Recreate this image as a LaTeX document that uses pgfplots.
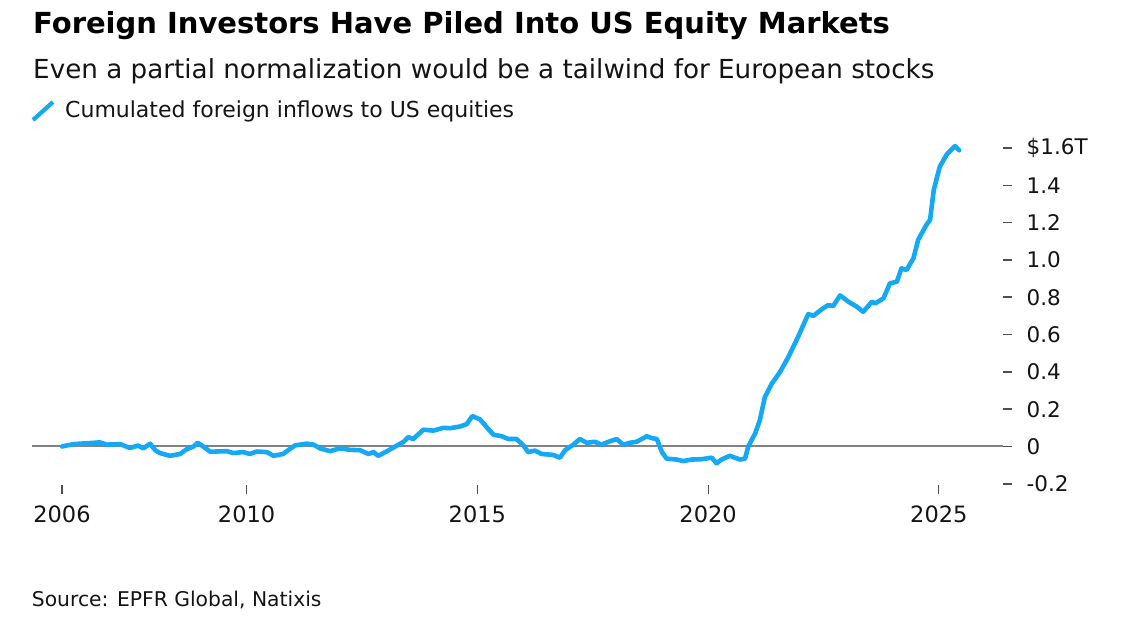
\documentclass[border=0pt]{standalone}
\usepackage{fontspec}
\setmainfont{DejaVu Sans}
\usepackage{pgfplots}
\pgfplotsset{compat=1.18}

\definecolor{flow}{RGB}{20,168,245}
\definecolor{zeroline}{RGB}{130,130,130}
\definecolor{tickc}{RGB}{80,80,80}
\definecolor{ink}{RGB}{20,20,20}

% cumulated foreign inflows to US equities, $ trillion
\pgfplotstableread{
year value
2006.00 0.000
2006.25 0.013
2006.53 0.017
2006.82 0.022
2006.97 0.010
2007.26 0.013
2007.47 -0.008
2007.65 0.005
2007.76 -0.010
2007.91 0.015
2008.02 -0.020
2008.12 -0.035
2008.34 -0.050
2008.56 -0.040
2008.70 -0.015
2008.85 0.000
2008.94 0.020
2009.06 0.000
2009.21 -0.028
2009.57 -0.025
2009.71 -0.035
2009.93 -0.030
2010.07 -0.040
2010.22 -0.027
2010.44 -0.030
2010.58 -0.050
2010.79 -0.040
2010.90 -0.020
2011.05 0.006
2011.30 0.015
2011.45 0.010
2011.59 -0.010
2011.81 -0.025
2012.02 -0.010
2012.24 -0.018
2012.46 -0.020
2012.64 -0.040
2012.75 -0.030
2012.85 -0.050
2013.03 -0.027
2013.22 0.000
2013.40 0.025
2013.50 0.050
2013.61 0.040
2013.83 0.090
2014.05 0.085
2014.26 0.100
2014.41 0.098
2014.62 0.107
2014.77 0.120
2014.89 0.163
2015.06 0.145
2015.20 0.104
2015.35 0.063
2015.53 0.055
2015.67 0.040
2015.85 0.040
2016.00 0.005
2016.10 -0.030
2016.25 -0.022
2016.39 -0.040
2016.64 -0.045
2016.79 -0.060
2016.90 -0.020
2017.08 0.010
2017.22 0.040
2017.37 0.020
2017.55 0.025
2017.69 0.010
2017.84 0.025
2018.02 0.040
2018.16 0.010
2018.31 0.020
2018.45 0.025
2018.67 0.055
2018.78 0.045
2018.89 0.040
2019.00 -0.030
2019.10 -0.065
2019.32 -0.070
2019.46 -0.078
2019.64 -0.070
2019.86 -0.068
2020.08 -0.060
2020.18 -0.090
2020.29 -0.070
2020.47 -0.050
2020.69 -0.070
2020.80 -0.065
2020.87 0.000
2021.02 0.070
2021.12 0.140
2021.23 0.265
2021.38 0.337
2021.56 0.400
2021.74 0.480
2021.95 0.588
2022.17 0.710
2022.28 0.700
2022.46 0.735
2022.60 0.758
2022.71 0.753
2022.86 0.810
2023.04 0.776
2023.22 0.750
2023.36 0.722
2023.55 0.776
2023.62 0.767
2023.80 0.794
2023.94 0.875
2024.09 0.883
2024.19 0.955
2024.30 0.946
2024.45 1.009
2024.55 1.107
2024.73 1.188
2024.81 1.215
2024.89 1.376
2025.02 1.500
2025.17 1.565
2025.35 1.610
2025.44 1.588
}\flows

\begin{document}
\begin{tikzpicture}
\path[use as bounding box] (-32pt,-141pt) rectangle (1106pt,485pt);
\begin{axis}[
    at={(0pt,0pt)}, anchor=south west,
    scale only axis,
    width=971pt, height=345pt,
    xmin=2005.35, xmax=2026.39,
    ymin=-0.2064, ymax=1.643,
    axis line style={draw=none},
    clip=false,
    tick align=outside,
    major tick length=9.5pt,
    xtick pos=left, ytick pos=right,
    yticklabel pos=right,
    xtick={2006,2010,2015,2020,2025},
    xticklabels={2006,2010,2015,2020,2025},
    ytick={-0.2,0,0.2,0.4,0.6,0.8,1.0,1.2,1.4,1.6},
    yticklabels={-0.2,0,0.2,0.4,0.6,0.8,1.0,1.2,1.4,\$1.6T},
    x tick style={draw=tickc, line width=1.2pt},
    y tick style={draw=tickc, line width=1.6pt},
    xticklabel style={anchor=north, inner sep=0pt, yshift=-11pt,
        font=\fontsize{22.5}{26}\selectfont, text=ink},
    yticklabel style={anchor=west, inner sep=0pt, xshift=14pt,
        font=\fontsize{21.5}{24}\selectfont, text=ink},
]
\draw[zeroline, line width=2pt] (axis cs:2005.35,0) -- (axis cs:2026.39,0);
\addplot[flow, line width=4.6pt, line join=round, line cap=round] table[x=year, y=value] {\flows};
\end{axis}

\node[anchor=base west, inner sep=0pt, text=black]
    at (1pt,451.7pt) {\fontsize{29}{34}\selectfont\bfseries Foreign Investors Have Piled Into US Equity Markets};
\node[anchor=base west, inner sep=0pt, text=ink]
    at (1pt,406.7pt) {\fontsize{26.2}{31}\selectfont Even a partial normalization would be a tailwind for European stocks};
\draw[flow, line width=4.2pt] (1pt,365pt) -- (21pt,383pt);
\node[anchor=base west, inner sep=0pt, text=ink]
    at (33pt,367.7pt) {\fontsize{22}{26}\selectfont Cumulated foreign inflows to US equities};
\node[anchor=base west, inner sep=0pt, text=ink]
    at (-0.3pt,-122pt) {\fontsize{20.3}{24}\selectfont Source: EPFR Global, Natixis};
\end{tikzpicture}
\end{document}
